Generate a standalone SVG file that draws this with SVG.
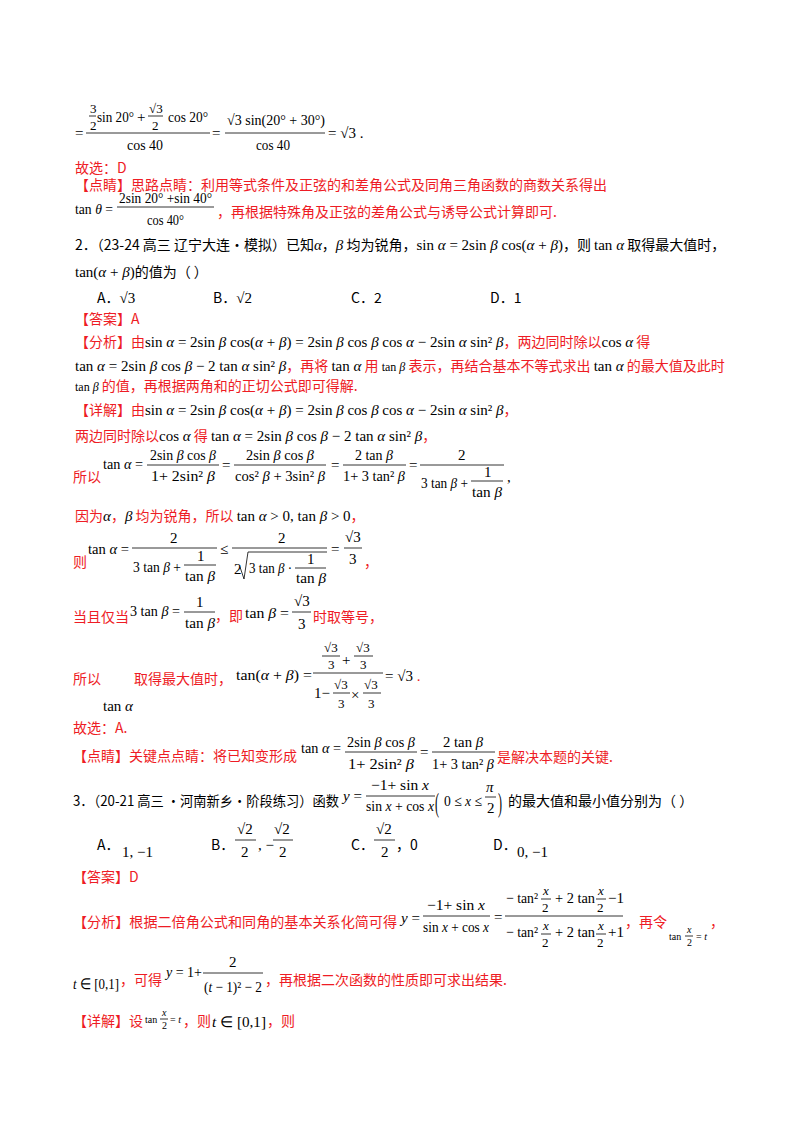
<svg xmlns="http://www.w3.org/2000/svg" width="800" height="1132" viewBox="0 0 800 1132">
<style>
text{font-family:"Noto Sans CJK SC","Noto Sans",sans-serif;font-size:14px;fill:#000}
.r{fill:#ee1c25}
.m{font-family:"Liberation Serif","Times New Roman",serif;font-size:15px;fill:#000}
.n{font-family:"Liberation Serif",serif;font-size:13px;fill:#000}
.s{font-family:"Liberation Serif",serif;font-size:12px;fill:#000}
.t{font-family:"Liberation Serif",serif;font-size:10px;fill:#000}
.c{text-anchor:middle}
.i{font-style:italic}
line{stroke:#000;stroke-width:0.8}
</style>
<rect width="800" height="1132" fill="#fff"/>
<g id="line1">
<text class="m" x="75" y="138">=</text>
<text class="n" x="90" y="113">3</text><line x1="89" y1="116" x2="96" y2="116"/><text class="n" x="90" y="130">2</text>
<text class="m" x="97" y="122" textLength="37" lengthAdjust="spacingAndGlyphs">sin 20°</text>
<text class="m" x="137" y="122">+</text>
<text class="n" x="149" y="113">√3</text><line x1="148" y1="116" x2="163" y2="116"/><text class="n" x="152" y="130">2</text>
<text class="m" x="168" y="122" textLength="40" lengthAdjust="spacingAndGlyphs">cos 20°</text>
<line x1="86" y1="133" x2="210" y2="133"/>
<text class="m" x="127" y="150" textLength="36" lengthAdjust="spacingAndGlyphs">cos 40</text>
<text class="m" x="212" y="138">=</text>
<text class="m" x="227" y="125" textLength="98" lengthAdjust="spacingAndGlyphs">√3 sin(20° + 30°)</text>
<line x1="225" y1="133" x2="325" y2="133"/>
<text class="m" x="256" y="150" textLength="34" lengthAdjust="spacingAndGlyphs">cos 40</text>
<text class="m" x="328" y="138">= √3 .</text>
</g>
<g id="s1">
<text class="r" x="75" y="173">故选：D</text>
<text class="r" x="75" y="190">【点睛】思路点睛：利用等式条件及正弦的和差角公式及同角三角函数的商数关系得出</text>
<text class="m" x="75" y="214" textLength="38" lengthAdjust="spacingAndGlyphs">tan <tspan class="i">θ</tspan> =</text>
<text class="m" x="119" y="203" textLength="93" lengthAdjust="spacingAndGlyphs">2sin 20° +sin 40°</text>
<line x1="117" y1="207" x2="214" y2="207"/>
<text class="m" x="147" y="225" textLength="37" lengthAdjust="spacingAndGlyphs">cos 40°</text>
<text class="r" x="217" y="217">，再根据特殊角及正弦的差角公式与诱导公式计算即可.</text>
</g>
<g id="q2">
<text x="75" y="250">2．（23-24 高三  辽宁大连·模拟）已知<tspan class="m i">α</tspan>，<tspan class="m i">β</tspan> 均为锐角，<tspan class="m">sin <tspan class="i">α</tspan> = 2sin <tspan class="i">β</tspan> cos(<tspan class="i">α</tspan> + <tspan class="i">β</tspan>)</tspan>，则 <tspan class="m">tan <tspan class="i">α</tspan></tspan> 取得最大值时，</text>
<text x="75" y="277"><tspan class="m">tan(<tspan class="i">α</tspan> + <tspan class="i">β</tspan>)</tspan>的值为（    ）</text>
<text x="97" y="303">A．<tspan class="m">√3</tspan></text>
<text x="213" y="303">B．<tspan class="m">√2</tspan></text>
<text x="351" y="303">C．2</text>
<text x="490" y="303">D．1</text>
<text class="r" x="75" y="324">【答案】A</text>
</g>
<g id="a2">
<text class="r" x="75" y="347">【分析】由<tspan class="m">sin <tspan class="i">α</tspan> = 2sin <tspan class="i">β</tspan> cos(<tspan class="i">α</tspan> + <tspan class="i">β</tspan>) = 2sin <tspan class="i">β</tspan> cos <tspan class="i">β</tspan> cos <tspan class="i">α</tspan> − 2sin <tspan class="i">α</tspan> sin² <tspan class="i">β</tspan></tspan>，两边同时除以<tspan class="m">cos <tspan class="i">α</tspan></tspan> 得</text>
<text class="r" x="75" y="371"><tspan class="m">tan <tspan class="i">α</tspan> = 2sin <tspan class="i">β</tspan> cos <tspan class="i">β</tspan> − 2 tan <tspan class="i">α</tspan> sin² <tspan class="i">β</tspan></tspan>，再将 <tspan class="m">tan <tspan class="i">α</tspan></tspan> 用 <tspan class="s">tan <tspan class="i">β</tspan></tspan> 表示，再结合基本不等式求出 <tspan class="m">tan <tspan class="i">α</tspan></tspan> 的最大值及此时</text>
<text class="r" x="75" y="391"><tspan class="s">tan <tspan class="i">β</tspan></tspan> 的值，再根据两角和的正切公式即可得解.</text>
<text class="r" x="75" y="415">【详解】由<tspan class="m">sin <tspan class="i">α</tspan> = 2sin <tspan class="i">β</tspan> cos(<tspan class="i">α</tspan> + <tspan class="i">β</tspan>) = 2sin <tspan class="i">β</tspan> cos <tspan class="i">β</tspan> cos <tspan class="i">α</tspan> − 2sin <tspan class="i">α</tspan> sin² <tspan class="i">β</tspan></tspan>，</text>
<text class="r" x="75" y="441">两边同时除以<tspan class="m">cos <tspan class="i">α</tspan></tspan> 得 <tspan class="m">tan <tspan class="i">α</tspan> = 2sin <tspan class="i">β</tspan> cos <tspan class="i">β</tspan> − 2 tan <tspan class="i">α</tspan> sin² <tspan class="i">β</tspan></tspan>，</text>
<text class="r" x="73" y="482">所以</text>
<text class="m" x="103" y="469" textLength="40" lengthAdjust="spacingAndGlyphs">tan <tspan class="i">α</tspan> =</text>
<text class="m c" x="183" y="460" textLength="66" lengthAdjust="spacingAndGlyphs">2sin <tspan class="i">β</tspan> cos <tspan class="i">β</tspan></text>
<line x1="147" y1="465" x2="219" y2="465"/>
<text class="m c" x="183" y="481" textLength="64" lengthAdjust="spacingAndGlyphs">1+ 2sin² <tspan class="i">β</tspan></text>
<text class="m" x="222" y="470">=</text>
<text class="m c" x="280" y="460" textLength="68" lengthAdjust="spacingAndGlyphs">2sin <tspan class="i">β</tspan> cos <tspan class="i">β</tspan></text>
<line x1="234" y1="465" x2="326" y2="465"/>
<text class="m c" x="280" y="481" textLength="90" lengthAdjust="spacingAndGlyphs">cos² <tspan class="i">β</tspan> + 3sin² <tspan class="i">β</tspan></text>
<text class="m" x="331" y="470">=</text>
<text class="m c" x="374" y="460" textLength="38" lengthAdjust="spacingAndGlyphs">2 tan <tspan class="i">β</tspan></text>
<line x1="343" y1="465" x2="406" y2="465"/>
<text class="m c" x="374" y="481" textLength="62" lengthAdjust="spacingAndGlyphs">1+ 3 tan² <tspan class="i">β</tspan></text>
<text class="m" x="409" y="470">=</text>
<text class="m" x="458" y="460">2</text>
<line x1="420" y1="465" x2="504" y2="465"/>
<text class="m" x="421" y="488" textLength="47" lengthAdjust="spacingAndGlyphs">3 tan <tspan class="i">β</tspan> +</text>
<text class="m" x="484" y="477">1</text>
<line x1="471" y1="481" x2="503" y2="481"/>
<text class="m" x="472" y="497" textLength="30" lengthAdjust="spacingAndGlyphs">tan <tspan class="i">β</tspan></text>
<text class="m" x="507" y="482">,</text>
<text class="r" x="75" y="521">因为<tspan class="m i">α</tspan>，<tspan class="m i">β</tspan> 均为锐角，所以 <tspan class="m">tan <tspan class="i">α</tspan> &gt; 0, tan <tspan class="i">β</tspan> &gt; 0</tspan>，</text>
<text class="r" x="73" y="567">则</text>
<text class="m" x="88" y="554" textLength="41" lengthAdjust="spacingAndGlyphs">tan <tspan class="i">α</tspan> =</text>
<text class="m" x="170" y="543">2</text>
<line x1="132" y1="548" x2="217" y2="548"/>
<text class="m" x="133" y="572" textLength="48" lengthAdjust="spacingAndGlyphs">3 tan <tspan class="i">β</tspan> +</text>
<text class="m" x="197" y="561">1</text>
<line x1="184" y1="565" x2="216" y2="565"/>
<text class="m" x="185" y="581" textLength="30" lengthAdjust="spacingAndGlyphs">tan <tspan class="i">β</tspan></text>
<text class="m" x="220" y="554">≤</text>
<text class="m" x="278" y="543">2</text>
<line x1="232" y1="548" x2="327" y2="548"/>
<text class="m" x="234" y="574">2</text>
<polyline points="240,567 244,579 248,552 327,552" fill="none" stroke="#000" stroke-width="0.8"/>
<text class="m" x="249" y="573" textLength="43" lengthAdjust="spacingAndGlyphs">3 tan <tspan class="i">β</tspan> ·</text>
<text class="m" x="307" y="564">1</text>
<line x1="295" y1="568" x2="326" y2="568"/>
<text class="m" x="296" y="583" textLength="30" lengthAdjust="spacingAndGlyphs">tan <tspan class="i">β</tspan></text>
<text class="m" x="331" y="554">=</text>
<text class="m" x="345" y="542">√3</text>
<line x1="344" y1="548" x2="362" y2="548"/>
<text class="m" x="349" y="564">3</text>
<text class="r" x="364" y="567">，</text>
<text class="r" x="73" y="622">当且仅当</text>
<text class="m" x="130" y="616" textLength="50" lengthAdjust="spacingAndGlyphs">3 tan <tspan class="i">β</tspan> =</text>
<text class="m" x="196" y="607">1</text>
<line x1="184" y1="612" x2="215" y2="612"/>
<text class="m" x="185" y="628" textLength="30" lengthAdjust="spacingAndGlyphs">tan <tspan class="i">β</tspan></text>
<text class="r" x="215" y="621">，即</text>
<text class="m" x="245" y="618" textLength="44" lengthAdjust="spacingAndGlyphs">tan <tspan class="i">β</tspan> =</text>
<text class="m" x="294" y="606">√3</text>
<line x1="292" y1="612" x2="311" y2="612"/>
<text class="m" x="298" y="629">3</text>
<text class="r" x="313" y="622">时取等号，</text>
<text class="r" x="73" y="684">所以</text>
<text class="r" x="134" y="684">取得最大值时，</text>
<text class="m" x="103" y="711" textLength="30" lengthAdjust="spacingAndGlyphs">tan <tspan class="i">α</tspan></text>
<text class="m" x="236" y="680" textLength="76" lengthAdjust="spacingAndGlyphs">tan(<tspan class="i">α</tspan> + <tspan class="i">β</tspan>) =</text>
<text class="n" x="324" y="652">√3</text><line x1="322" y1="656" x2="340" y2="656"/><text class="n" x="328" y="669">3</text>
<text class="m" x="342" y="665">+</text>
<text class="n" x="356" y="652">√3</text><line x1="354" y1="656" x2="373" y2="656"/><text class="n" x="360" y="669">3</text>
<line x1="313" y1="673" x2="383" y2="673"/>
<text class="m" x="314" y="698">1−</text>
<text class="n" x="334" y="689">√3</text><line x1="333" y1="693" x2="350" y2="693"/><text class="n" x="338" y="708">3</text>
<text class="m" x="351" y="700">×</text>
<text class="n" x="364" y="689">√3</text><line x1="363" y1="693" x2="381" y2="693"/><text class="n" x="368" y="708">3</text>
<text class="m" x="385" y="681">= √3 <tspan fill="#ee1c25">.</tspan></text>
<text class="r" x="73" y="733">故选：A.</text>
<text class="r" x="73" y="761">【点睛】关键点点睛：将已知变形成</text>
<text class="m" x="301" y="753" textLength="40" lengthAdjust="spacingAndGlyphs">tan <tspan class="i">α</tspan> =</text>
<text class="m c" x="381" y="747" textLength="68" lengthAdjust="spacingAndGlyphs">2sin <tspan class="i">β</tspan> cos <tspan class="i">β</tspan></text>
<line x1="345" y1="752" x2="417" y2="752"/>
<text class="m c" x="381" y="769" textLength="66" lengthAdjust="spacingAndGlyphs">1+ 2sin² <tspan class="i">β</tspan></text>
<text class="m" x="420" y="757">=</text>
<text class="m c" x="463" y="747" textLength="40" lengthAdjust="spacingAndGlyphs">2 tan <tspan class="i">β</tspan></text>
<line x1="432" y1="752" x2="495" y2="752"/>
<text class="m c" x="463" y="769" textLength="62" lengthAdjust="spacingAndGlyphs">1+ 3 tan² <tspan class="i">β</tspan></text>
<text class="r" x="497" y="762">是解决本题的关键.</text>
</g>
<g id="q3">
<text x="73" y="806" textLength="266" lengthAdjust="spacingAndGlyphs">3．（20-21 高三  ·河南新乡·阶段练习）函数</text>
<text class="m" x="343" y="801"><tspan class="i">y</tspan> =</text>
<text class="m c" x="400" y="790" textLength="58" lengthAdjust="spacingAndGlyphs">−1+ sin <tspan class="i">x</tspan></text>
<line x1="366" y1="796" x2="435" y2="796"/>
<text class="m c" x="400" y="811" textLength="68" lengthAdjust="spacingAndGlyphs">sin <tspan class="i">x</tspan> + cos <tspan class="i">x</tspan></text>
<text class="m" x="0" y="0" transform="translate(435,812) scale(0.8,1.8)" font-size="22">(</text>
<text class="m" x="444" y="806" textLength="38" lengthAdjust="spacingAndGlyphs">0 ≤ <tspan class="i">x</tspan> ≤</text>
<text class="m i" x="486" y="792">π</text><line x1="485" y1="797" x2="496" y2="797"/><text class="m" x="487" y="813">2</text>
<text class="m" x="0" y="0" transform="translate(498,812) scale(0.8,1.8)" font-size="22">)</text>
<text x="508" y="806">的最大值和最小值分别为（    ）</text>
<text x="97" y="850">A．</text><text class="m" x="122" y="857">1, −1</text>
<text x="211" y="850">B．</text>
<text class="m" x="237" y="834">√2</text><line x1="235" y1="840" x2="256" y2="840"/><text class="m" x="241" y="857">2</text>
<text class="m" x="258" y="850">, −</text>
<text class="m" x="274" y="834">√2</text><line x1="273" y1="840" x2="293" y2="840"/><text class="m" x="279" y="857">2</text>
<text x="351" y="850">C．</text>
<text class="m" x="376" y="834">√2</text><line x1="374" y1="840" x2="395" y2="840"/><text class="m" x="381" y="857">2</text>
<text x="396" y="850">，0</text>
<text x="493" y="850">D．</text><text class="m" x="517" y="857">0, −1</text>
<text class="r" x="73" y="882">【答案】D</text>
<text class="r" x="73" y="927" textLength="324" lengthAdjust="spacingAndGlyphs">【分析】根据二倍角公式和同角的基本关系化简可得</text>
<text class="m" x="401" y="923"><tspan class="i">y</tspan> =</text>
<text class="m c" x="456" y="910" textLength="58" lengthAdjust="spacingAndGlyphs">−1+ sin <tspan class="i">x</tspan></text>
<line x1="423" y1="916" x2="490" y2="916"/>
<text class="m c" x="456" y="932" textLength="66" lengthAdjust="spacingAndGlyphs">sin <tspan class="i">x</tspan> + cos <tspan class="i">x</tspan></text>
<text class="m" x="494" y="922">=</text>
<text class="m" x="506" y="903" textLength="32" lengthAdjust="spacingAndGlyphs">− tan²</text>
<text class="n i" x="543" y="895">x</text><line x1="541" y1="899" x2="551" y2="899"/><text class="n" x="542" y="912">2</text>
<text class="m" x="555" y="903" textLength="40" lengthAdjust="spacingAndGlyphs">+ 2 tan</text>
<text class="n i" x="598" y="895">x</text><line x1="596" y1="899" x2="606" y2="899"/><text class="n" x="597" y="912">2</text>
<text class="m" x="608" y="903">−1</text>
<line x1="505" y1="916" x2="623" y2="916"/>
<text class="m" x="506" y="937" textLength="32" lengthAdjust="spacingAndGlyphs">− tan²</text>
<text class="n i" x="543" y="930">x</text><line x1="541" y1="934" x2="551" y2="934"/><text class="n" x="542" y="947">2</text>
<text class="m" x="555" y="937" textLength="40" lengthAdjust="spacingAndGlyphs">+ 2 tan</text>
<text class="n i" x="598" y="930">x</text><line x1="596" y1="934" x2="606" y2="934"/><text class="n" x="597" y="947">2</text>
<text class="m" x="608" y="937">+1</text>
<text class="r" x="625" y="927">，再令</text>
<text class="r" x="710" y="927">，</text>
<text class="t" x="669" y="940">tan</text>
<text class="t i" x="687" y="933">x</text><line x1="685" y1="936" x2="693" y2="936"/><text class="t" x="687" y="946">2</text>
<text class="t" x="696" y="940">= <tspan class="i">t</tspan></text>
<text class="m" x="73" y="989" textLength="46" lengthAdjust="spacingAndGlyphs"><tspan class="i">t</tspan> ∈ [0,1]</text>
<text class="r" x="120" y="985">，可得</text>
<text class="m" x="166" y="977" textLength="36" lengthAdjust="spacingAndGlyphs"><tspan class="i">y</tspan> = 1+</text>
<text class="m" x="229" y="967">2</text>
<line x1="203" y1="973" x2="263" y2="973"/>
<text class="m" x="204" y="992" textLength="58" lengthAdjust="spacingAndGlyphs">(<tspan class="i">t</tspan> − 1)² − 2</text>
<text class="r" x="265" y="985">，再根据二次函数的性质即可求出结果.</text>
<text class="r" x="73" y="1026">【详解】设</text>
<text class="t" x="145" y="1023">tan</text>
<text class="t i" x="162" y="1016">x</text><line x1="160" y1="1019" x2="168" y2="1019"/><text class="t" x="162" y="1029">2</text>
<text class="t" x="170" y="1023">= <tspan class="i">t</tspan></text>
<text class="r" x="183" y="1026">，则</text>
<text class="m" x="212" y="1027" textLength="54" lengthAdjust="spacingAndGlyphs"><tspan class="i">t</tspan> ∈ [0,1]</text>
<text class="r" x="267" y="1026">，则</text>
</g>
</svg>
